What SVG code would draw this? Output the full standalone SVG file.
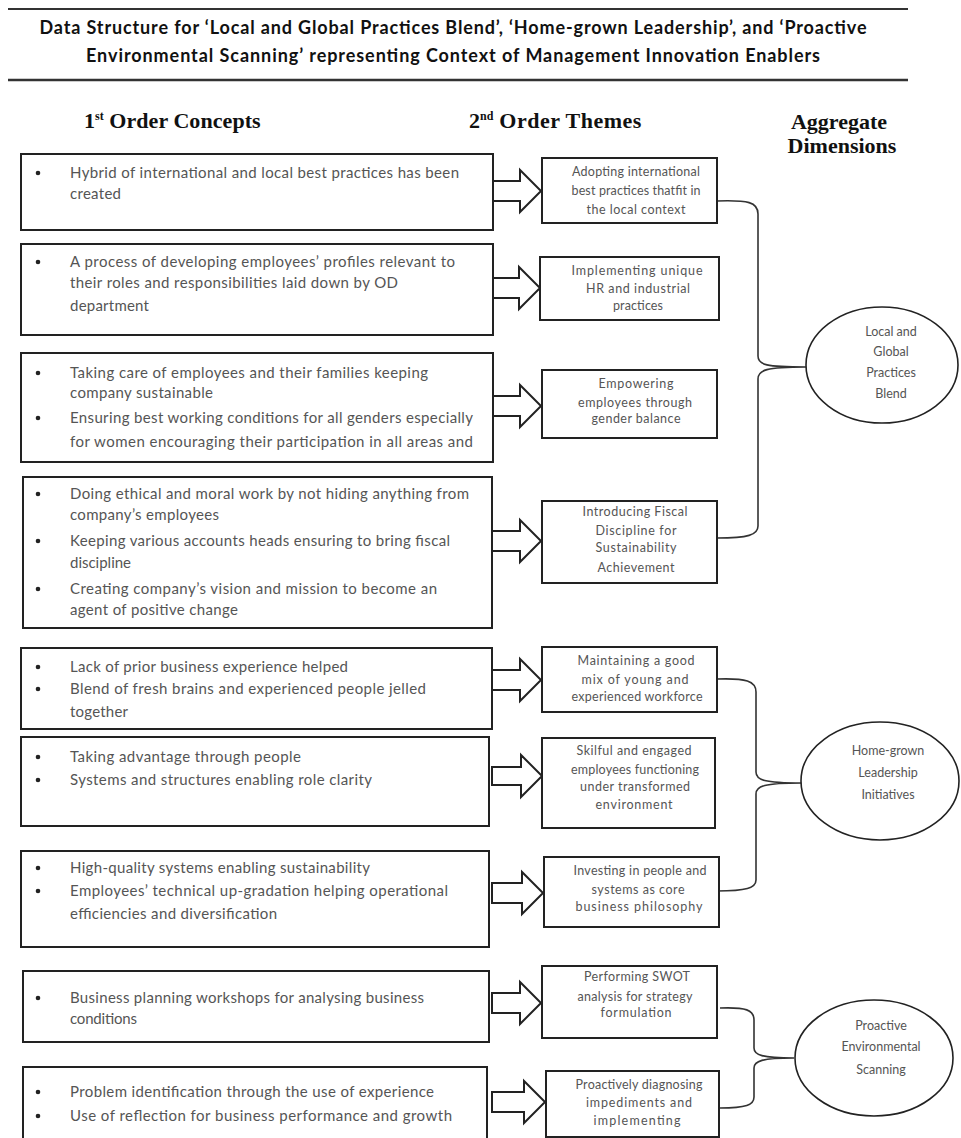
<svg xmlns="http://www.w3.org/2000/svg" width="961" height="1138" viewBox="0 0 961 1138">
<style>
.bg{fill:#fff}
.rule{stroke:#333;stroke-width:2}
.box{fill:#fff;stroke:#222;stroke-width:2}
.theme{fill:#fff;stroke:#222;stroke-width:2}
.ell{fill:#fff;stroke:#222;stroke-width:1.6}
.arrow{fill:#fff;stroke:#222;stroke-width:2;stroke-linejoin:miter}
.brace{fill:none;stroke:#333;stroke-width:1.6}
.title{font-family:Lato,"Liberation Sans",sans-serif;font-weight:bold;font-size:18px;fill:#111;text-anchor:middle}
.head{font-family:"Liberation Serif","DejaVu Serif",serif;font-weight:bold;font-size:22px;fill:#111}
.t{font-family:Lato,"Liberation Sans",sans-serif;font-size:15px;fill:#555}
.tt{font-family:Lato,"Liberation Sans",sans-serif;font-size:12.5px;fill:#555;text-anchor:middle}
.dot{fill:#222}
</style>
<rect class="bg" x="0" y="0" width="961" height="1138"/>

<g id="title">
<line class="rule" x1="8" y1="9" x2="908" y2="9"/>
<text class="title" x="453" y="34" textLength="827">Data Structure for ‘Local and Global Practices Blend’, ‘Home-grown Leadership’, and ‘Proactive</text>
<text class="title" x="453" y="62" textLength="734">Environmental Scanning’ representing Context of Management Innovation Enablers</text>
<line class="rule" x1="8" y1="80" x2="908" y2="80" style="stroke-width:2.5"/>
</g>

<g id="headers">
<text class="head" x="84" y="128">1<tspan font-size="12" dy="-8">st</tspan><tspan dy="8" textLength="157"> Order Concepts</tspan></text>
<text class="head" x="469" y="128">2<tspan font-size="12" dy="-8">nd</tspan><tspan dy="8" textLength="148"> Order Themes</tspan></text>
<text class="head" x="839" y="129" text-anchor="middle">Aggregate</text>
<text class="head" x="842" y="153" text-anchor="middle">Dimensions</text>
</g>

<g id="connectors">
<path class="arrow" d="M493,181 H520 V170 L541,191 L520,212 V201 H493 Z"/>
<path class="arrow" d="M493,278 H519 V267 L540,288 L519,309 V298 H493 Z"/>
<path class="arrow" d="M493,396 H520 V385 L541,406 L520,427 V416 H493 Z"/>
<path class="arrow" d="M492,531 H520 V520 L541,541 L520,562 V551 H492 Z"/>
<path class="arrow" d="M492,670 H520 V659 L541,680 L520,701 V690 H492 Z"/>
<path class="arrow" d="M492,767 H521 V755 L542,776 L521,797 V785 H492 Z"/>
<path class="arrow" d="M492,883 H522 V872 L543,893 L522,914 V903 H492 Z"/>
<path class="arrow" d="M492,993 H520 V982 L541,1003 L520,1024 V1013 H492 Z"/>
<path class="arrow" d="M492,1092 H524 V1081 L545,1102 L524,1123 V1112 H492 Z"/>
<path class="brace" d="M717,201 C748,200 758,202 758,214 L758,356 C758,365 766,367 806,367 C766,367 758,370 758,379 L758,526 C758,535 748,538 717,538"/>
<path class="brace" d="M717,679 C746,678 756,681 756,692 L756,772 C756,780 764,783 802,783 C764,783 756,786 756,794 L756,880 C756,888 746,891 717,891"/>
<path class="brace" d="M720,1008 C746,1007 754,1010 754,1020 L754,1048 C754,1055 762,1058 794,1058 C762,1058 754,1061 754,1068 L754,1097 C754,1105 746,1108 720,1108"/>
</g>

<g id="c1">
<rect class="box" x="21" y="154" width="472" height="76"/>
<circle class="dot" cx="38" cy="173" r="2.3"/>
<text class="t" x="70" y="178" textLength="389">Hybrid of international and local best practices has been</text>
<text class="t" x="70" y="199" textLength="51">created</text>
</g>
<g id="c2">
<rect class="box" x="21" y="244" width="472" height="91"/>
<circle class="dot" cx="38" cy="262" r="2.3"/>
<text class="t" x="70" y="267" textLength="385">A process of developing employees’ profiles relevant to</text>
<text class="t" x="70" y="288" textLength="328">their roles and responsibilities laid down by OD</text>
<text class="t" x="70" y="311" textLength="79">department</text>
</g>
<g id="c3">
<rect class="box" x="21" y="353" width="472" height="109"/>
<circle class="dot" cx="38" cy="373" r="2.3"/>
<text class="t" x="70" y="378" textLength="358">Taking care of employees and their families keeping</text>
<text class="t" x="70" y="398" textLength="143">company sustainable</text>
<circle class="dot" cx="38" cy="418" r="2.3"/>
<text class="t" x="70" y="423" textLength="403">Ensuring best working conditions for all genders especially</text>
<text class="t" x="70" y="447" textLength="403">for women encouraging their participation in all areas and</text>
</g>
<g id="c4">
<rect class="box" x="23" y="477" width="469" height="151"/>
<circle class="dot" cx="38" cy="494" r="2.3"/>
<text class="t" x="70" y="499" textLength="399">Doing ethical and moral work by not hiding anything from</text>
<text class="t" x="70" y="520" textLength="149">company’s employees</text>
<circle class="dot" cx="38" cy="541" r="2.3"/>
<text class="t" x="70" y="546" textLength="380">Keeping various accounts heads ensuring to bring fiscal</text>
<text class="t" x="70" y="568" textLength="61">discipline</text>
<circle class="dot" cx="38" cy="589" r="2.3"/>
<text class="t" x="70" y="594" textLength="367">Creating company’s vision and mission to become an</text>
<text class="t" x="70" y="615" textLength="168">agent of positive change</text>
</g>
<g id="c5">
<rect class="box" x="21" y="648" width="471" height="81"/>
<circle class="dot" cx="38" cy="667" r="2.3"/>
<text class="t" x="70" y="672" textLength="278">Lack of prior business experience helped</text>
<circle class="dot" cx="38" cy="689" r="2.3"/>
<text class="t" x="70" y="694" textLength="356">Blend of fresh brains and experienced people jelled</text>
<text class="t" x="70" y="717" textLength="58">together</text>
</g>
<g id="c6">
<rect class="box" x="21" y="737" width="468" height="89"/>
<circle class="dot" cx="38" cy="757" r="2.3"/>
<text class="t" x="70" y="762" textLength="231">Taking advantage through people</text>
<circle class="dot" cx="38" cy="780" r="2.3"/>
<text class="t" x="70" y="785" textLength="302">Systems and structures enabling role clarity</text>
</g>
<g id="c7">
<rect class="box" x="21" y="851" width="468" height="96"/>
<circle class="dot" cx="38" cy="868" r="2.3"/>
<text class="t" x="70" y="873" textLength="300">High-quality systems enabling sustainability</text>
<circle class="dot" cx="38" cy="891" r="2.3"/>
<text class="t" x="70" y="896" textLength="378">Employees’ technical up-gradation helping operational</text>
<text class="t" x="70" y="919" textLength="207">efficiencies and diversification</text>
</g>
<g id="c8">
<rect class="box" x="23" y="971" width="466" height="71"/>
<circle class="dot" cx="38" cy="998" r="2.3"/>
<text class="t" x="70" y="1003" textLength="354">Business planning workshops for analysing business</text>
<text class="t" x="70" y="1024" textLength="67">conditions</text>
</g>
<g id="c9">
<rect class="box" x="23" y="1067" width="464" height="80"/>
<circle class="dot" cx="38" cy="1092" r="2.3"/>
<text class="t" x="70" y="1097" textLength="364">Problem identification through the use of experience</text>
<circle class="dot" cx="38" cy="1116" r="2.3"/>
<text class="t" x="70" y="1121" textLength="382">Use of reflection for business performance and growth</text>
</g>

<g id="t1">
<rect class="theme" x="542" y="158" width="175" height="65"/>
<text class="tt" x="636" y="176" textLength="128">Adopting international</text>
<text class="tt" x="636" y="195" textLength="129">best practices thatfit in</text>
<text class="tt" x="636" y="214" textLength="99">the local context</text>
</g>
<g id="t2">
<rect class="theme" x="540" y="257" width="179" height="63"/>
<text class="tt" x="637" y="275" textLength="131">Implementing unique</text>
<text class="tt" x="638" y="293" textLength="104">HR and industrial</text>
<text class="tt" x="638" y="310" textLength="50">practices</text>
</g>
<g id="t3">
<rect class="theme" x="542" y="370" width="175" height="68"/>
<text class="tt" x="636" y="388" textLength="75">Empowering</text>
<text class="tt" x="635" y="407" textLength="114">employees through</text>
<text class="tt" x="636" y="423" textLength="89">gender balance</text>
</g>
<g id="t4">
<rect class="theme" x="542" y="501" width="175" height="82"/>
<text class="tt" x="635" y="516" textLength="105">Introducing Fiscal</text>
<text class="tt" x="636" y="535" textLength="81">Discipline for</text>
<text class="tt" x="636" y="552" textLength="81">Sustainability</text>
<text class="tt" x="636" y="572" textLength="77">Achievement</text>
</g>
<g id="t5">
<rect class="theme" x="542" y="647" width="175" height="65"/>
<text class="tt" x="636" y="665" textLength="117">Maintaining a good</text>
<text class="tt" x="635" y="684" textLength="107">mix of young and</text>
<text class="tt" x="637" y="701" textLength="131">experienced workforce</text>
</g>
<g id="t6">
<rect class="theme" x="542" y="738" width="173" height="90"/>
<text class="tt" x="634" y="755" textLength="115">Skilful and engaged</text>
<text class="tt" x="635" y="774" textLength="128">employees functioning</text>
<text class="tt" x="635" y="791" textLength="110">under transformed</text>
<text class="tt" x="634" y="809" textLength="77">environment</text>
</g>
<g id="t7">
<rect class="theme" x="544" y="857" width="175" height="70"/>
<text class="tt" x="640" y="875" textLength="133">Investing in people and</text>
<text class="tt" x="638" y="894" textLength="93">systems as core</text>
<text class="tt" x="639" y="911" textLength="127">business philosophy</text>
</g>
<g id="t8">
<rect class="theme" x="542" y="966" width="175" height="72"/>
<text class="tt" x="637" y="981" textLength="106">Performing SWOT</text>
<text class="tt" x="635" y="1001" textLength="115">analysis for strategy</text>
<text class="tt" x="636" y="1017" textLength="71">formulation</text>
</g>
<g id="t9">
<rect class="theme" x="546" y="1071" width="173" height="66"/>
<text class="tt" x="639" y="1089" textLength="127">Proactively diagnosing</text>
<text class="tt" x="639" y="1107" textLength="106">impediments and</text>
<text class="tt" x="637" y="1125" textLength="87">implementing</text>
</g>

<g id="d1">
<ellipse class="ell" cx="882" cy="365" rx="76" ry="58"/>
<text class="tt" x="891" y="336">Local and</text>
<text class="tt" x="891" y="356">Global</text>
<text class="tt" x="891" y="377">Practices</text>
<text class="tt" x="891" y="398">Blend</text>
</g>
<g id="d2">
<ellipse class="ell" cx="880" cy="781" rx="79" ry="59"/>
<text class="tt" x="888" y="755">Home-grown</text>
<text class="tt" x="888" y="777">Leadership</text>
<text class="tt" x="888" y="799">Initiatives</text>
</g>
<g id="d3">
<ellipse class="ell" cx="874" cy="1058" rx="79" ry="58"/>
<text class="tt" x="881" y="1030">Proactive</text>
<text class="tt" x="881" y="1051">Environmental</text>
<text class="tt" x="881" y="1074">Scanning</text>
</g>
</svg>
